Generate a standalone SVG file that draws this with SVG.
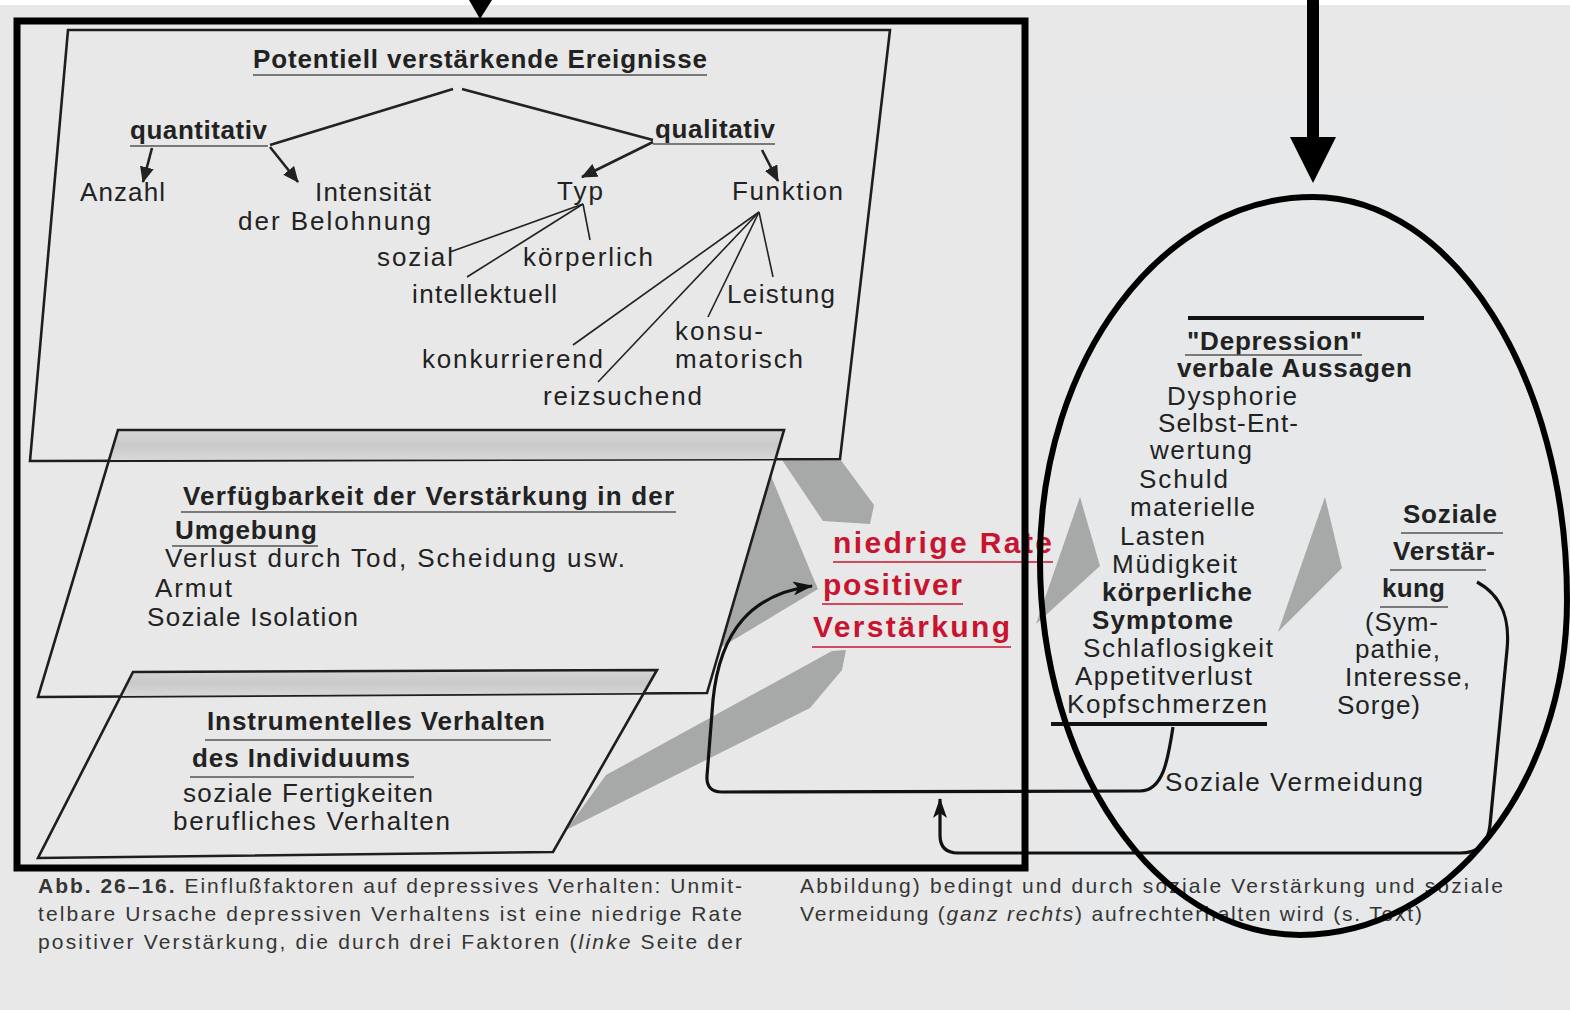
<svg xmlns="http://www.w3.org/2000/svg" width="1570" height="1010" viewBox="0 0 1570 1010">
<style>
  .t{font-family:"Liberation Sans",Arial,sans-serif;fill:#222;font-size:26px}
  .b{font-weight:bold}
  .rt{font-family:"Liberation Sans",Arial,sans-serif;font-weight:bold;fill:#c8142f;font-size:30px}
  .cap{font-family:"Liberation Sans",Arial,sans-serif;fill:#353535;font-size:21px}
  .box{fill:none;stroke:#1e1e1e;stroke-width:2.6;stroke-linejoin:miter}
  .ln{fill:none;stroke:#222;stroke-width:1.6}
  .ar{fill:none;stroke:#222;stroke-width:2.6}
  .ul{stroke:#555;stroke-width:1.6}
  .rul{stroke:#c8142f;stroke-width:1.6}
  .gray{fill:#a7a9a8}
  .strip{fill:url(#sg)}
  .con{fill:none;stroke:#111;stroke-width:3.2}
</style>
<defs>
  <marker id="ah" viewBox="0 0 16 14" refX="15" refY="7" markerWidth="16" markerHeight="14" markerUnits="userSpaceOnUse" orient="auto">
    <path d="M0,0 L16,7 L0,14 z" fill="#222"/>
  </marker>
  <marker id="ah2" viewBox="0 0 20 14" refX="19" refY="7" markerWidth="20" markerHeight="14" markerUnits="userSpaceOnUse" orient="auto">
    <path d="M0,0 L20,7 L0,14 L5,7 z" fill="#111"/>
  </marker>
  <linearGradient id="sg" x1="0" y1="0" x2="0" y2="1">
    <stop offset="0" stop-color="#d6d6d6"/>
    <stop offset="0.5" stop-color="#c9c9c9"/>
    <stop offset="1" stop-color="#d8d8d8"/>
  </linearGradient>
</defs>

<rect x="0" y="0" width="1570" height="1010" fill="#e8e8e8"/>
<rect x="0" y="0" width="1570" height="5" fill="#ffffff"/>
<rect x="1070" y="90" width="430" height="920" fill="#e6e8e9"/>

<g id="shading">
  <polygon class="gray" points="782,460 840,459 874,505 870,524 823,521"/>
  <polygon class="gray" points="771,476 812,575 818,589 720,648"/>
  <polygon class="gray" points="606,775 832,651 846,650 842,670 810,708 566,830"/>
  <polygon class="gray" points="1080,497 1100,566 1036,624"/>
  <polygon class="gray" points="1325,497 1342,568 1278,632"/>
</g>

<g id="node-ereignisse">
  <polygon class="box" points="68,30 890,30 840,459 30,461"/>
  <text class="t b" x="253" y="68" font-size="23" textLength="454">Potentiell verstärkende Ereignisse</text>
  <line class="ul" x1="253" y1="75" x2="707" y2="75"/>
  <text class="t b" x="130" y="139" font-size="23" textLength="137">quantitativ</text>
  <line class="ul" x1="130" y1="146" x2="268" y2="146"/>
  <text class="t b" x="655" y="138" font-size="23" textLength="120">qualitativ</text>
  <line class="ul" x1="653" y1="144" x2="775" y2="144"/>
  <text class="t" x="80" y="201" textLength="85">Anzahl</text>
  <text class="t" x="315" y="201" textLength="116">Intensität</text>
  <text class="t" x="238" y="230" textLength="193">der Belohnung</text>
  <text class="t" x="557" y="200" textLength="46">Typ</text>
  <text class="t" x="732" y="200" textLength="111">Funktion</text>
  <text class="t" x="377" y="266" textLength="76">sozial</text>
  <text class="t" x="523" y="266" textLength="130">körperlich</text>
  <text class="t" x="412" y="303" textLength="145">intellektuell</text>
  <text class="t" x="727" y="303" textLength="108">Leistung</text>
  <text class="t" x="675" y="340" font-size="24" textLength="88">konsu-</text>
  <text class="t" x="675" y="368" font-size="24" textLength="128">matorisch</text>
  <text class="t" x="422" y="368" textLength="181">konkurrierend</text>
  <text class="t" x="543" y="405" textLength="159">reizsuchend</text>
</g>

<g id="node-verfuegbarkeit">
  <polygon class="strip" points="118,430 784,430 775,459 109,460"/>
  <polygon class="box" points="118,430 784,430 707,693 38,697"/>
  <text class="t b" x="183" y="505" font-size="26" textLength="491">Verfügbarkeit der Verstärkung in der</text>
  <line class="ul" x1="181" y1="512" x2="676" y2="512"/>
  <text class="t b" x="175" y="539" font-size="26" textLength="142">Umgebung</text>
  <line class="ul" x1="172" y1="546" x2="318" y2="546"/>
  <text class="t" x="165" y="567" font-size="27" textLength="460">Verlust durch Tod, Scheidung usw.</text>
  <text class="t" x="155" y="597" font-size="27" textLength="77">Armut</text>
  <text class="t" x="147" y="626" font-size="27" textLength="211">Soziale Isolation</text>
</g>

<g id="node-instrumentell">
  <polygon class="strip" points="133,672 657,670 645,693 121,696"/>
  <polygon class="box" points="133,672 657,670 553,852 38,858"/>
  <text class="t b" x="207" y="730" font-size="26" textLength="338">Instrumentelles Verhalten</text>
  <line class="ul" x1="205" y1="740" x2="551" y2="740"/>
  <text class="t b" x="192" y="767" font-size="26" textLength="218">des Individuums</text>
  <line class="ul" x1="190" y1="777" x2="414" y2="777"/>
  <text class="t" x="183" y="802" font-size="27" textLength="250">soziale Fertigkeiten</text>
  <text class="t" x="173" y="830" font-size="27" textLength="277">berufliches Verhalten</text>
</g>

<g id="node-rate">
  <text class="rt" x="833" y="553" textLength="219">niedrige Rate</text>
  <line class="rul" x1="833" y1="562" x2="1053" y2="562"/>
  <text class="rt" x="823" y="595" textLength="139">positiver</text>
  <line class="rul" x1="822" y1="604" x2="963" y2="604"/>
  <text class="rt" x="813" y="637" textLength="197">Verstärkung</text>
  <line class="rul" x1="812" y1="647" x2="1011" y2="647"/>
</g>

<g id="node-depression">
  <line x1="1188" y1="318" x2="1424" y2="318" stroke="#111" stroke-width="4"/>
  <text class="t b" x="1187" y="350" font-size="23" textLength="175">"Depression"</text>
  <line class="ul" x1="1185" y1="355" x2="1362" y2="355"/>
  <text class="t b" x="1177" y="377" font-size="23" textLength="235">verbale Aussagen</text>
  <text class="t" x="1167" y="405" font-size="24" textLength="130">Dysphorie</text>
  <text class="t" x="1158" y="432" font-size="24" textLength="140">Selbst-Ent-</text>
  <text class="t" x="1150" y="459" font-size="24" textLength="102">wertung</text>
  <text class="t" x="1139" y="488" font-size="24" textLength="89">Schuld</text>
  <text class="t" x="1130" y="516" font-size="24" textLength="125">materielle</text>
  <text class="t" x="1120" y="545" font-size="24" textLength="85">Lasten</text>
  <text class="t" x="1112" y="573" font-size="24" textLength="125">Müdigkeit</text>
  <text class="t b" x="1102" y="601" font-size="23" textLength="150">körperliche</text>
  <text class="t b" x="1092" y="629" font-size="23" textLength="141">Symptome</text>
  <text class="t" x="1083" y="657" font-size="24" textLength="190">Schlaflosigkeit</text>
  <text class="t" x="1075" y="685" font-size="24" textLength="177">Appetitverlust</text>
  <text class="t" x="1067" y="713" font-size="24" textLength="200">Kopfschmerzen</text>
  <line x1="1051" y1="724" x2="1267" y2="724" stroke="#111" stroke-width="4"/>
</g>

<g id="node-soziale-verstaerkung">
  <text class="t b" x="1403" y="523" font-size="24" textLength="94">Soziale</text>
  <line class="ul" x1="1401" y1="533" x2="1503" y2="533"/>
  <text class="t b" x="1393" y="560" font-size="24" textLength="102">Verstär-</text>
  <line class="ul" x1="1390" y1="570" x2="1486" y2="570"/>
  <text class="t b" x="1382" y="597" font-size="24" textLength="63">kung</text>
  <line class="ul" x1="1380" y1="607" x2="1448" y2="607"/>
  <text class="t" x="1365" y="631" font-size="24" textLength="73">(Sym-</text>
  <text class="t" x="1355" y="658" font-size="24" textLength="85">pathie,</text>
  <text class="t" x="1345" y="686" font-size="24" textLength="125">Interesse,</text>
  <text class="t" x="1337" y="714" font-size="24" textLength="83">Sorge)</text>
</g>

<g id="node-vermeidung">
  <text class="t" x="1165" y="791" font-size="25" textLength="258">Soziale Vermeidung</text>
</g>

<g id="connectors">
  <line class="ar" x1="453" y1="89" x2="270" y2="145"/>
  <line class="ar" x1="462" y1="89" x2="653" y2="140"/>
  <line class="ar" x1="152" y1="148" x2="143" y2="182" marker-end="url(#ah)"/>
  <line class="ar" x1="270" y1="147" x2="298" y2="182" marker-end="url(#ah)"/>
  <line class="ar" x1="653" y1="142" x2="582" y2="177" marker-end="url(#ah)"/>
  <line class="ar" x1="762" y1="150" x2="778" y2="181" marker-end="url(#ah)"/>
  <line class="ln" x1="583" y1="204" x2="450" y2="252"/>
  <line class="ln" x1="583" y1="204" x2="467" y2="277"/>
  <line class="ln" x1="583" y1="204" x2="590" y2="240"/>
  <line class="ln" x1="759" y1="212" x2="773" y2="277"/>
  <line class="ln" x1="759" y1="212" x2="708" y2="317"/>
  <line class="ln" x1="759" y1="212" x2="573" y2="345"/>
  <line class="ln" x1="759" y1="212" x2="598" y2="382"/>
  <path class="con" d="M1173,727 C1168,760 1163,791 1140,791 L722,792 Q706,792 707,776 L713,700 C720,630 752,594 812,586" marker-end="url(#ah2)"/>
  <path class="con" d="M1477,582 C1503,596 1510,620 1507,650 L1490,825 C1488,845 1478,853 1460,853 L958,853 Q940,853 940,835 L940,799" marker-end="url(#ah2)"/>
</g>

<g id="caption">
  <text class="cap" x="38" y="893" textLength="704"><tspan font-weight="bold">Abb. 26–16.</tspan>  Einflußfaktoren auf depressives Verhalten: Unmit-</text>
  <text class="cap" x="38" y="921" textLength="704">telbare Ursache depressiven Verhaltens ist eine niedrige Rate</text>
  <text class="cap" x="38" y="949" textLength="704">positiver Verstärkung, die durch drei Faktoren (<tspan font-style="italic">linke</tspan> Seite der</text>
  <text class="cap" x="800" y="893" textLength="703">Abbildung) bedingt und durch soziale Verstärkung und soziale</text>
  <text class="cap" x="800" y="921" textLength="622">Vermeidung (<tspan font-style="italic">ganz rechts</tspan>) aufrechterhalten wird (s. Text)</text>
</g>

<g id="highlights">
  <rect x="17" y="21" width="1008" height="847" fill="none" stroke="#000" stroke-width="7"/>
  <path d="M1313,197 C1453,197 1567,377 1567,600 C1567,785 1447,935 1300,935 C1156,935 1040,767 1040,560 C1040,360 1162,197 1313,197 Z" fill="none" stroke="#000" stroke-width="6"/>
  <polygon points="469,0 492,0 480,19" fill="#000"/>
  <rect x="1307" y="0" width="12" height="140" fill="#000"/>
  <polygon points="1290,137 1336,137 1313,183" fill="#000"/>
</g>
</svg>
